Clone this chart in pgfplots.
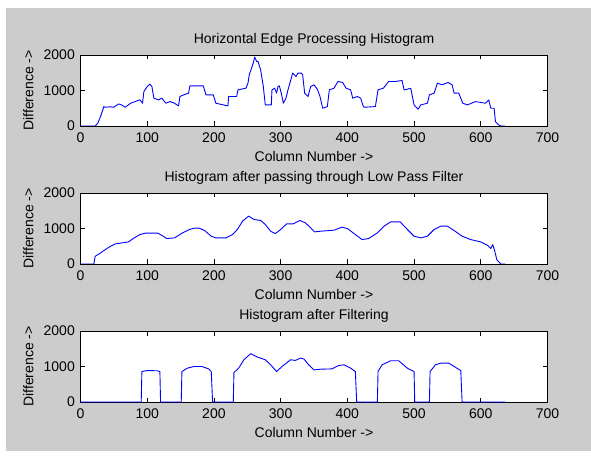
\documentclass[border=0pt]{standalone}
\usepackage{fontspec}
\setmainfont{Liberation Sans}
\usepackage{pgfplots}
\pgfplotsset{compat=1.18}
\definecolor{FigGray}{RGB}{204,204,204}
\definecolor{LineBlue}{RGB}{0,0,255}
\pgfplotsset{
  mlab/.style={
    scale only axis,
    width=467pt, height=71pt,
    anchor=south west,
    xmin=0, xmax=700, ymin=0, ymax=2000,
    xtick={0,100,...,700}, ytick={0,1000,2000},
    tick align=inside,
    major tick length=4.5pt,
    axis line style={black, line width=0.6pt},
    every tick/.style={black, line width=0.6pt},
    axis background/.style={fill=white},
    /pgf/number format/assume math mode=true,
    /pgf/number format/1000 sep={},
    tick label style={font=\fontsize{14}{16}\selectfont, inner sep=0pt},
    xticklabel style={anchor=north, yshift=-7pt},
    yticklabel style={anchor=east, xshift=-5.5pt},
    every axis title/.style={at={(axis description cs:0.5,1)}, anchor=base, yshift=11.7pt, font=\fontsize{14}{16}\selectfont},
    every axis x label/.style={at={(axis description cs:0.5,0)}, anchor=base, yshift=-35.7pt, font=\fontsize{14}{16}\selectfont},
    every axis y label/.style={at={(axis description cs:-0.1011,0.5)}, rotate=90, anchor=base, font=\fontsize{14}{16}\selectfont},
    xlabel={Column Number ->},
    ylabel={Difference ->},
  },
  curve/.style={LineBlue, line width=0.9pt, line join=round, no marks},
}
\begin{document}
\begin{tikzpicture}[x=1pt, y=1pt]
\path[use as bounding box, fill=white] (0,0) rectangle (591,455);
\fill[FigGray] (6,4) rectangle (591,447);

% edge histogram
\begin{axis}[mlab, at={(80.5pt,329pt)}, title={Horizontal Edge Processing Histogram}]
\addplot[curve] coordinates {
(0,0) (22,0) (26,80) (30,264) (35,547) (37,528) (45,540) (50,528) (57,622) (62,590)
(67,528) (75,641) (82,688) (88,735) (90,720) (93,641) (95,971) (100,1113) (104,1179) (107,1113)
(110,783) (117,735) (122,783) (128,641) (134,688) (140,650) (147,566) (149,830) (155,880) (162,924)
(164,1132) (184,1132) (188,877) (199,877) (203,641) (221,566) (222,830) (234,830) (236,1018) (248,1065)
(251,1207) (253,1443) (259,1773) (261,1943) (264,1820) (266,1820) (270,1584) (274,1113) (277,594) (286,594)
(287,1018) (291,1065) (294,924) (296,1113) (298,1132) (301,924) (304,641) (308,783) (311,1018) (316,1349)
(318,1490) (323,1396) (326,1490) (331,1490) (333,1443) (336,924) (341,830) (345,1113) (350,1160) (355,1037)
(359,830) (363,500) (370,547) (373,1018) (380,1065) (386,1254) (393,1226) (398,1065) (405,1018) (408,783)
(415,830) (420,783) (423,594) (425,528) (442,547) (446,1018) (454,1065) (462,1254) (472,1254) (482,1282)
(485,1018) (490,1037) (495,1065) (500,594) (506,471) (510,594) (520,641) (523,877) (530,924) (535,1207)
(542,1160) (551,1226) (557,1160) (560,924) (567,924) (573,641) (580,594) (592,688) (607,641) (612,735)
(615,500) (620,500) (622,123) (627,28) (630,0) (637,0)
};
\end{axis}

% low pass
\begin{axis}[mlab, at={(80.5pt,191pt)}, title={Histogram after passing through Low Pass Filter}]
\addplot[curve] coordinates {
(0,0) (20,0) (22,217) (30,311) (37,405) (45,500) (52,566) (62,594) (72,622) (79,717)
(89,830) (97,868) (116,868) (124,783) (129,717) (141,735) (153,877) (163,971) (171,1009) (178,1009)
(186,943) (196,783) (203,735) (218,735) (228,830) (235,971) (243,1207) (252,1349) (260,1254) (270,1226)
(277,1113) (285,924) (292,858) (300,971) (309,1132) (319,1132) (329,1226) (337,1160) (344,1037) (351,905)
(360,924) (380,952) (392,1037) (400,1000) (412,830) (422,688) (432,717) (445,877) (455,1065) (465,1188)
(479,1188) (490,971) (500,783) (510,735) (520,783) (530,971) (540,1065) (550,1065) (560,943) (572,783)
(585,688) (600,622) (610,528) (615,434) (618,547) (621,358) (624,123) (630,0) (637,0)
};
\end{axis}

% filtered
\begin{axis}[mlab, at={(80.5pt,53pt)}, title={Histogram after Filtering}]
\addplot[curve] coordinates {
(0,0) (91,0) (92,857) (95,870) (100,885) (115,880) (119,857) (120,0) (151,0) (152,857)
(160,952) (170,1000) (182,1000) (192,933) (196,857) (198,0) (229,0) (230,829) (237,952) (245,1190)
(255,1362) (265,1267) (277,1190) (285,1048) (294,857) (302,1000) (315,1190) (322,1171) (330,1238) (335,1210)
(342,1048) (350,905) (360,924) (377,933) (387,1029) (395,1048) (405,952) (412,857) (414,0) (445,0)
(446,857) (452,1048) (465,1162) (477,1162) (490,952) (500,857) (501,0) (523,0) (524,857) (532,1048)
(540,1095) (552,1095) (560,1000) (570,886) (572,0) (637,0)
};
\end{axis}
\end{tikzpicture}
\end{document}
